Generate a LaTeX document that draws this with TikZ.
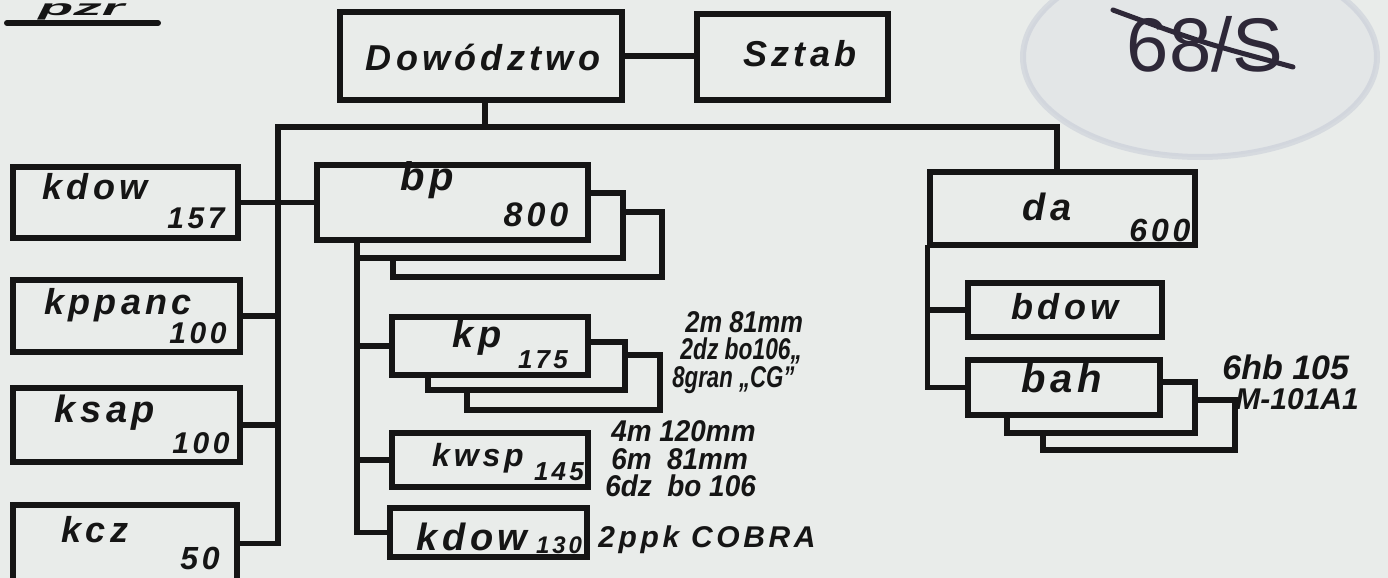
\documentclass[tikz,border=0pt]{standalone}
\usepackage{fontspec}
\usepackage{graphicx}
\setmainfont{Liberation Sans}
\newfontfamily\hwsp{Liberation Sans}[LetterSpace=12]
\newfontfamily\hwn{Liberation Sans}
\usetikzlibrary{fit,calc}
\definecolor{paper}{HTML}{E9ECEA}
\definecolor{ink}{HTML}{151515}
\definecolor{stampc}{HTML}{B3BACD}
\definecolor{pen}{HTML}{2E2838}
\newcommand\fs[1]{\fontsize{#1}{#1}\selectfont}
\newcommand\hsq[2]{\scalebox{#1}[1]{#2}}
\begin{document}
\begin{tikzpicture}[x=0.5pt,y=-0.5pt,
  box/.style={draw=ink, line width=2.6pt, inner sep=0pt, fit={#1}},
  conn/.style={draw=ink, line width=2.6pt, line cap=rect},
  lab/.style={text=ink, font=\hwsp\bfseries\itshape\fs{#1}, inner sep=0pt},
  num/.style={text=ink, font=\hwsp\bfseries\itshape\fs{#1}, inner sep=0pt},
  note/.style={text=ink, font=\hwn\bfseries\itshape\fs{#1}, inner sep=0pt, anchor=west, text height=10pt, text depth=1pt},
  notesp/.style={text=ink, font=\hwsp\bfseries\itshape\fs{#1}, inner sep=0pt, anchor=west}
]
% paper
\fill[paper] (0,0) rectangle (1388,578);
\useasboundingbox (0,0) rectangle (1388,578);

% stamp
\fill[stampc, opacity=0.10] (1200,57) ellipse [x radius=88.5pt, y radius=50pt];
\draw[stampc, line width=3pt, opacity=0.35] (1200,57) ellipse [x radius=88.5pt, y radius=50pt];

% archive number
\node[text=pen, font=\hwn\fs{38}, inner sep=0pt] (archnum) at (1205,44) {68/S};
\draw[pen, line width=2.5pt, line cap=round] (1113,10) .. controls (1200,42) .. (1293,67);

% title
\node[text=ink, font=\hwn\bfseries\itshape\fs{11}, inner sep=0pt, anchor=base west, text height=6pt, text depth=2pt] (title) at (38,16) {\hsq{2.6}{pzr}};
\coordinate (ulA) at (7,23);
\coordinate (ulB) at (158,23);
\draw[ink, line width=3pt, line cap=round] (ulA) -- (ulB);

% boxes
\node[box={(340,12) (622,100)}] (dow) {};
\node[box={(697,14) (888,100)}] (sztab) {};
\node[box={(13,167) (238,238)}] (kdowL) {};
\node[box={(13,280) (240,352)}] (kppanc) {};
\node[box={(13,388) (240,462)}] (ksap) {};
\node[box={(13,505) (237,582)}] (kcz) {};
\node[box={(317,165) (588,240)}] (bp) {};
\node[box={(392,317) (588,375)}] (kp) {};
\node[box={(392,433) (588,487)}] (kwsp) {};
\node[box={(390,508) (587,557)}] (kdowB) {};
\node[box={(930,172) (1195,245)}] (da) {};
\node[box={(968,283) (1162,337)}] (bdow) {};
\node[box={(968,360) (1160,415)}] (bah) {};

% connectors
\coordinate (busL) at (278,127);
\coordinate (bpv) at (357,240);
\draw[conn] (dow.east) -- (dow.east -| sztab.west);
\draw[conn] (dow.south -| 485,0) -- (busL -| 485,0);
\draw[conn] (busL) -- (busL -| 1057,0) -- (da.north -| 1057,0);
\draw[conn] (busL) -- (busL |- kcz.east) -- (kcz.east);
\draw[conn] (kdowL.east) -- (bp.west);
\draw[conn] (kppanc.east) -- (kppanc.east -| busL);
\draw[conn] (ksap.east) -- (ksap.east -| busL);
\draw[conn] (bpv) -- (bpv |- kdowB.west) -- (kdowB.west);
\draw[conn] (kp.west -| bpv) -- (kp.west);
\draw[conn] (kwsp.west -| bpv) -- (kwsp.west);
\draw[conn] (da.south west) -- (da.south west |- bah.west) -- (bah.west);
\draw[conn] (bdow.west -| da.south west) -- (bdow.west);

% stacked shadows
\draw[conn, line cap=butt] (588,193) -- (623,193) -- (623,258) -- (357,258);
\draw[conn, line cap=butt] (623,212) -- (662,212) -- (662,277) -- (393,277) -- (393,258);
\draw[conn, line cap=butt] (588,342) -- (625,342) -- (625,390) -- (428,390) -- (428,375);
\draw[conn, line cap=butt] (625,355) -- (660,355) -- (660,410) -- (467,410) -- (467,390);
\draw[conn, line cap=butt] (1160,382) -- (1195,382) -- (1195,433) -- (1007,433) -- (1007,415);
\draw[conn, line cap=butt] (1195,400) -- (1235,400) -- (1235,450) -- (1043,450) -- (1043,433);

% labels
\node[lab=18] (tdow) at (483,57) {Dowództwo};
\node[lab=18] (tsztab) at (800,54) {Sztab};
\node[lab=18] (tkdowL) at (95,187) {kdow};
\node[num=15] (nkdowL) at (196,218) {157};
\node[lab=18] (tkppanc) at (118,305) {kppanc};
\node[num=15] (nkppanc) at (198,333) {100};
\node[lab=19] (tksap) at (105,413) {ksap};
\node[num=15] (nksap) at (201,443) {100};
\node[lab=18] (tkcz) at (95,530) {kcz};
\node[num=16] (nkcz) at (200,558) {50};
\node[lab=20] (tbp) at (427,180) {bp};
\node[num=17] (nbp) at (536,215) {800};
\node[lab=19] (tkp) at (477,338) {kp};
\node[num=13] (nkp) at (543,360) {175};
\node[lab=16] (tkwsp) at (478,458) {kwsp};
\node[num=13] (nkwsp) at (559,472) {145};
\node[lab=19] (tkdowB) at (472,537) {kdow};
\node[num=12] (nkdowB) at (559,545) {130};
\node[lab=19] (tda) at (1047,207) {da};
\node[num=16] (nda) at (1160,230) {600};
\node[lab=18] (tbdow) at (1065,307) {bdow};
\node[lab=20] (tbah) at (1062,378) {bah};

% equipment notes
\node[note=15] (e1) at (685,323) {\hsq{0.85}{2m 81mm}};
\node[note=15] (e2) at (680,350) {\hsq{0.76}{2dz bo106„}};
\node[note=15] (e3) at (672,378) {\hsq{0.74}{8gran „CG”}};
\node[note=15] (e4) at (611,432) {\hsq{0.93}{4m 120mm}};
\node[note=15] (e5) at (611,460) {\hsq{0.93}{6m\ \ 81mm}};
\node[note=15] (e6) at (605,487) {\hsq{0.93}{6dz\ \ bo 106}};
\node[notesp=15] (e7) at (598,540) {2ppk COBRA};
\node[note=17] (e8) at (1222,370) {6hb 105};
\node[note=15] (e9) at (1235,400) {M-101A1};
\end{tikzpicture}
\end{document}
